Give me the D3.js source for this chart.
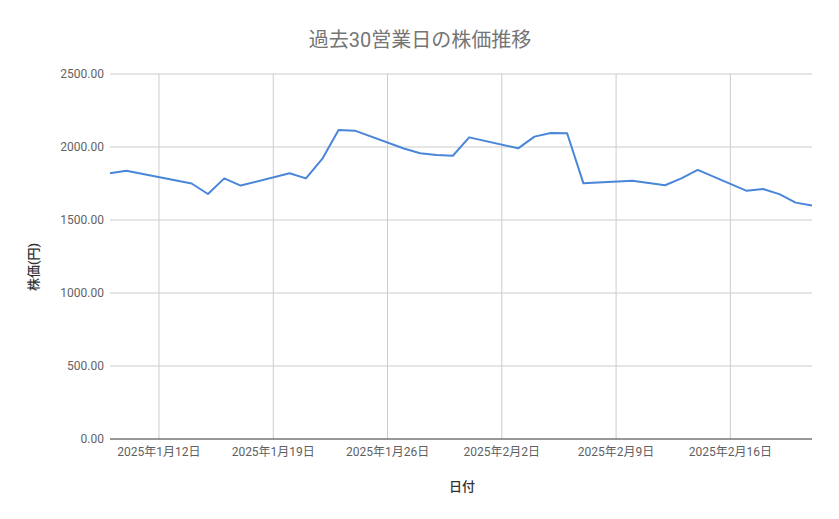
<!DOCTYPE html>
<html>
<head>
<meta charset="utf-8">
<script src="https://cdn.jsdelivr.net/npm/d3@7"></script>
<style>
  body { margin: 0; background: #fff; }
  svg { display: block; font-family: Roboto, "Noto Sans CJK JP", sans-serif; }
</style>
</head>
<body>
<svg id="chart" width="839" height="519"></svg>
<script>
// Business days (Japan, holidays 1/13 and 2/11 skipped)
const dates = [
  '2025-01-09', '2025-01-10', '2025-01-14', '2025-01-15', '2025-01-16', '2025-01-17',
  '2025-01-20', '2025-01-21', '2025-01-22', '2025-01-23', '2025-01-24',
  '2025-01-27', '2025-01-28', '2025-01-29', '2025-01-30', '2025-01-31',
  '2025-02-03', '2025-02-04', '2025-02-05', '2025-02-06', '2025-02-07',
  '2025-02-10', '2025-02-12', '2025-02-13', '2025-02-14',
  '2025-02-17', '2025-02-18', '2025-02-19', '2025-02-20', '2025-02-21'
];
const prices = [
  1820, 1838, 1750, 1678, 1785, 1736,
  1820, 1785, 1918, 2116, 2112,
  1990, 1957, 1945, 1940, 2066,
  1991, 2071, 2096, 2094, 1751,
  1769, 1738, 1785, 1843,
  1700, 1712, 1677, 1619, 1600
];
const xTicks = ['2025-01-12', '2025-01-19', '2025-01-26', '2025-02-02', '2025-02-09', '2025-02-16'];
const yTicks = [0, 500, 1000, 1500, 2000, 2500];

const svg = d3.select('#chart');
const parse = d3.timeParse('%Y-%m-%d');
const plotL = 110, plotR = 812, plotT = 74, plotB = 439;

const data = dates.map((d, i) => ({ date: parse(d), value: prices[i] }));

const x = d3.scaleTime()
  .domain([parse('2025-01-09'), parse('2025-02-21')])
  .range([plotL, plotR]);
const y = d3.scaleLinear()
  .domain([0, 2500])
  .range([plotB, plotT]);

// Horizontal grid
svg.append('g')
  .selectAll('line')
  .data(yTicks.filter(t => t > 0))
  .join('line')
  .attr('x1', plotL).attr('x2', plotR)
  .attr('y1', d => y(d)).attr('y2', d => y(d))
  .attr('stroke', '#cccccc')
  .attr('stroke-width', 1);

// Vertical grid
svg.append('g')
  .selectAll('line')
  .data(xTicks.map(parse))
  .join('line')
  .attr('x1', d => x(d)).attr('x2', d => x(d))
  .attr('y1', plotT).attr('y2', plotB)
  .attr('stroke', '#cccccc')
  .attr('stroke-width', 1);

// Y labels
svg.append('g')
  .selectAll('text')
  .data(yTicks)
  .join('text')
  .attr('x', plotL - 6)
  .attr('y', d => y(d))
  .attr('dy', '0.35em')
  .attr('text-anchor', 'end')
  .style('font-size', '12px')
  .style('fill', '#636363')
  .text(d => d3.format('.2f')(d));

// X labels
const fmt = d => `${d.getFullYear()}年${d.getMonth() + 1}月${d.getDate()}日`;
svg.append('g')
  .selectAll('text')
  .data(xTicks.map(parse))
  .join('text')
  .attr('x', d => x(d))
  .attr('y', plotB + 17)
  .attr('text-anchor', 'middle')
  .style('font-size', '12px')
  .style('fill', '#5f5f5f')
  .text(fmt);

// Baseline
svg.append('line')
  .attr('x1', plotL).attr('x2', plotR)
  .attr('y1', plotB).attr('y2', plotB)
  .attr('stroke', '#333333')
  .attr('stroke-width', 1);

// Price line
const line = d3.line()
  .x(d => x(d.date))
  .y(d => y(d.value));

svg.append('path')
  .datum(data)
  .attr('d', line)
  .attr('fill', 'none')
  .attr('stroke', '#4a86d8')
  .attr('stroke-width', 2)
  .attr('stroke-linejoin', 'round');

// Title
svg.append('text')
  .attr('x', 420)
  .attr('y', 47)
  .attr('text-anchor', 'middle')
  .style('font-size', '20px')
  .style('fill', '#757575')
  .text('過去30営業日の株価推移');

// Axis titles
svg.append('text')
  .attr('x', 462)
  .attr('y', 491)
  .attr('text-anchor', 'middle')
  .style('font-size', '13px')
  .style('font-weight', '500')
  .style('fill', '#333')
  .text('日付');

svg.append('text')
  .attr('transform', 'translate(38,267) rotate(-90)')
  .attr('text-anchor', 'middle')
  .style('font-size', '13px')
  .style('font-weight', '500')
  .style('fill', '#333')
  .text('株価(円)');
</script>
</body>
</html>
